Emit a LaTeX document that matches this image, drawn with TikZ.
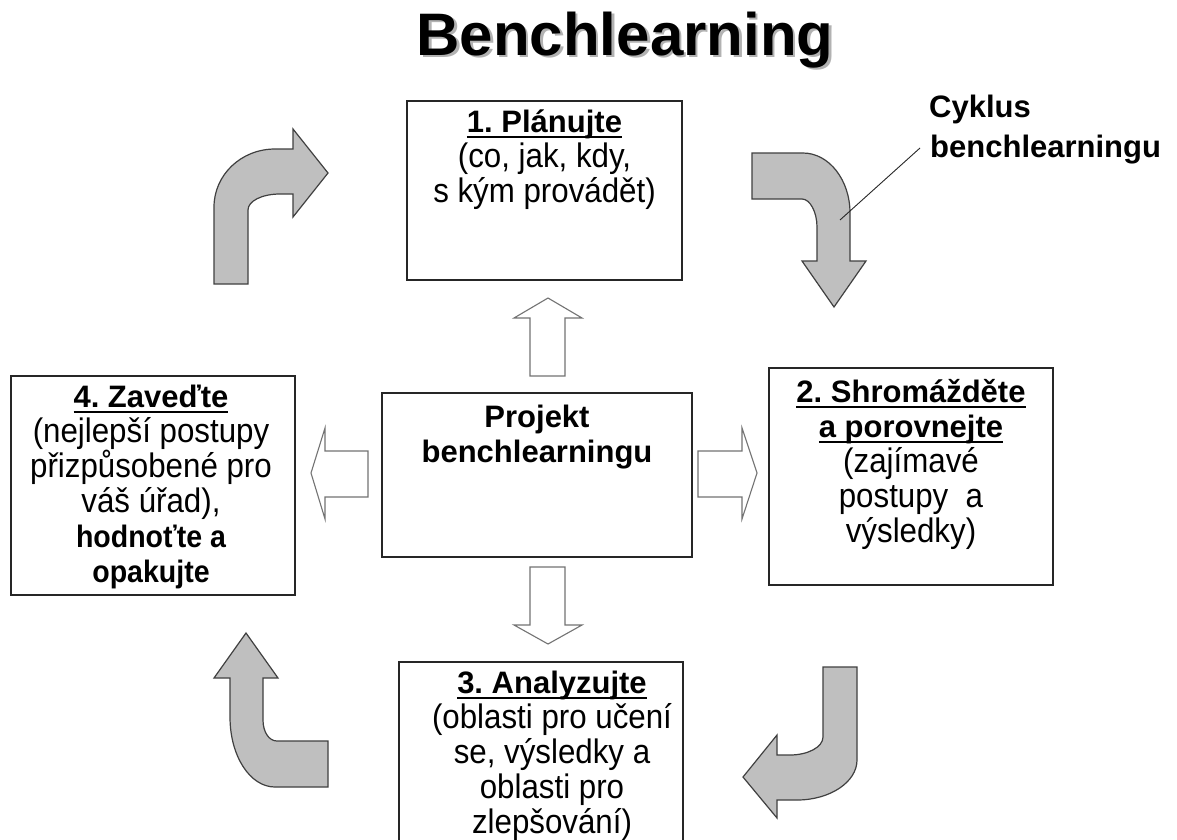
\documentclass[tikz,border=0pt]{standalone}
\usepackage{fontspec}
\setmainfont{Liberation Sans}
\newfontfamily\narrowfont{Liberation Sans}[FakeStretch=0.92]
\usetikzlibrary{calc}
\frenchspacing

% bold heading with a thick underline
\newcommand{\headul}[1]{\leavevmode\setbox0=\hbox{\normalfont\fontsize{31}{35}\selectfont\bfseries #1}\rlap{\rule[-6pt]{\wd0}{2.6pt}}\box0}
% tall, slightly narrow body text used in the boxes
\newcommand{\stagefont}{\narrowfont\fontsize{34}{35}\selectfont\lineskiplimit=-40pt\relax}
% bold line in the body text
\newcommand{\stagebold}[1]{{\fontsize{31}{35}\selectfont\bfseries #1}}

\tikzset{
  stage/.style={draw=black!85, line width=1.3pt, fill=white, inner sep=0pt},
  stagetext/.style={anchor=north, inner sep=0pt, align=center, font=\stagefont},
  cyclearrow/.style={draw=black!75, line width=1.2pt, fill=black!25, line join=miter},
  flowarrow/.style={draw=black!55, line width=1.1pt, fill=white, line join=miter},
  bigtitle/.style={anchor=base, inner sep=0pt, font=\fontsize{60}{62}\selectfont\bfseries},
  sidetext/.style={anchor=base west, inner sep=0pt, font=\fontsize{31}{35}\selectfont\bfseries},
  centretext/.style={anchor=north, inner sep=0pt, align=center,
    font=\fontsize{31}{35}\selectfont\bfseries},
}

\begin{document}
\begin{tikzpicture}[x=1pt, y=-1pt]
\useasboundingbox (0,0) rectangle (1177,839);
\clip (0,0) rectangle (1177,839);
\fill[white] (0,0) rectangle (1177,839);

% title with drop shadow
\node[bigtitle, text=black!30] (titleshadow) at (627.5,57.5) {Benchlearning};
\node[bigtitle] (title) at (625,55) {Benchlearning};

% stage boxes
\node[stage, minimum width=275pt, minimum height=179pt] (plan) at (544.5,190.5) {};
\node[stage, minimum width=284pt, minimum height=217pt] (collect) at (911,476.5) {};
\node[stage, minimum width=284pt, minimum height=196pt] (analyse) at (541,760) {};
\node[stage, minimum width=284pt, minimum height=219pt] (adopt) at (153,485.5) {};
\node[stage, minimum width=310pt, minimum height=164pt] (project) at (537,475) {};

% stage texts
\node[stagetext] (plantext) at (544.5,101)
  {\headul{1. Plánujte}\rule{0pt}{31pt}\\(co, jak, kdy,\\s kým provádět)};
\node[stagetext] (collecttext) at (911,368)
  {\headul{2. Shromážděte}\rule{0pt}{34pt}\\\headul{a porovnejte}\\(zajímavé\\postupy~ a\\výsledky)};
\node[stagetext] (analysetext) at (552,662)
  {\headul{3. Analyzujte}\rule{0pt}{31pt}\\(oblasti pro učení\\se, výsledky a\\oblasti pro\\zlepšování)};
\node[stagetext] (adopttext) at (151,376)
  {\headul{4. Zaveďte}\rule{0pt}{31pt}\\(nejlepší postupy\\přizpůsobené pro\\váš úřad),\\\stagebold{hodnoťte a}\\\stagebold{opakujte}};
\node[centretext] (projecttext) at (537,393)
  {Projekt\rule{0pt}{34pt}\\benchlearningu};

% hollow arrows out of the project box
\draw[flowarrow] (530,376) -- (530,318) -- (514,318) -- (548,298) -- (582,318) -- (565,318) -- (565,376) -- cycle;
\draw[flowarrow] (530,567) -- (565,567) -- (565,625) -- (582,625) -- (548,644) -- (514,625) -- (530,625) -- cycle;
\draw[flowarrow] (368,451) -- (325,451) -- (325,428) -- (311,473) -- (325,519) -- (325,497) -- (368,497) -- cycle;
\draw[flowarrow] (698,451) -- (742,451) -- (742,428) -- (757,473) -- (742,519) -- (742,497) -- (698,497) -- cycle;

% curved grey arrows of the cycle
% top left: up then right
\draw[cyclearrow] (214,284) -- (214,207) .. controls (214,175) and (241,149) .. (275,149)
  -- (293,149) -- (293,129) -- (328,173) -- (293,217) -- (293,194) -- (280,194)
  .. controls (262,194) and (248,201) .. (248,210) -- (248,284) -- cycle;
% top right: right then down
\draw[cyclearrow] (752,153) -- (803,153) .. controls (829,153) and (850,180) .. (850,213)
  -- (850,261) -- (866,261) -- (834,307) -- (802,261) -- (817,261) -- (817,227)
  .. controls (817,212) and (810,199) .. (802,199) -- (752,199) -- cycle;
% bottom right: down then left
\draw[cyclearrow] (823,667) -- (857,667) -- (857,760) .. controls (857,782) and (830,800) .. (797,800)
  -- (777,800) -- (777,818) -- (743,777) -- (777,735) -- (777,755) -- (790,755)
  .. controls (808,755) and (823,747) .. (823,737) -- cycle;
% bottom left: left then up
\draw[cyclearrow] (230,678) -- (214,678) -- (246,633) -- (278,678) -- (263,678) -- (263,720)
  .. controls (263,732) and (269,741) .. (277,741) -- (328,741) -- (328,787) -- (275,787)
  .. controls (250,787) and (230,756) .. (230,717) -- cycle;

% cycle label with pointer line
\node[sidetext] (cyclelabel) at (929,117) {Cyklus};
\node[sidetext] (cyclelabel2) at (930,157) {benchlearningu};
\coordinate (pointerstart) at (840,220);
\coordinate (pointerend) at (920,148);
\draw[line width=0.9pt, black!85] (pointerstart) -- (pointerend);
\end{tikzpicture}
\end{document}
